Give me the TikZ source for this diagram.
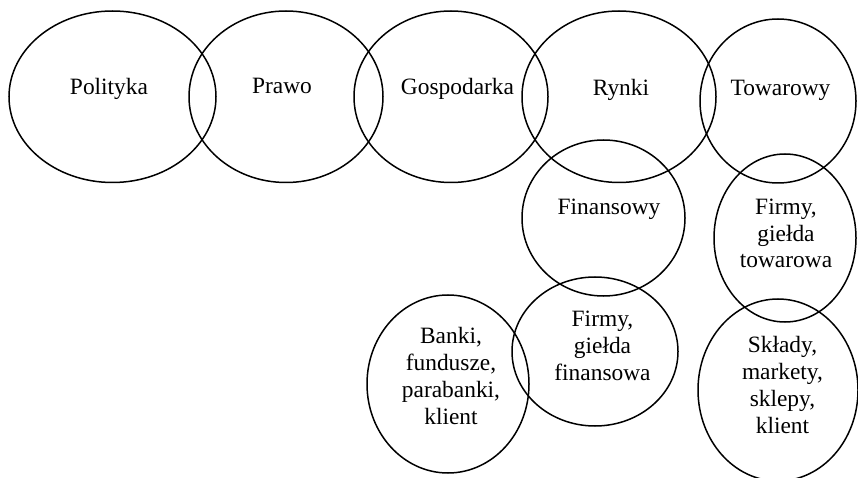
\documentclass[tikz,border=0pt]{standalone}
\usepackage{fontspec}
\setmainfont{Liberation Serif}
\usetikzlibrary{shapes.geometric}
\begin{document}
\begin{tikzpicture}[x=1bp,y=-1bp,
  ell/.style={draw=black,line width=1.5bp,ellipse,inner sep=0pt,outer sep=0pt},
  lbl/.style={inner sep=0pt,outer sep=0pt,align=center,anchor=base,
    font=\fontsize{23.4bp}{26.7bp}\selectfont}]
\useasboundingbox (0,0) rectangle (858,478);
% top row
\node[ell,minimum width=207bp,minimum height=171.5bp] (pol) at (112.5,96.75) {};
\node[ell,minimum width=194bp,minimum height=171.5bp] (pra) at (286,96.75) {};
\node[ell,minimum width=194bp,minimum height=171.5bp] (gos) at (451,96.75) {};
\node[ell,minimum width=194bp,minimum height=171.5bp] (ryn) at (619,96.75) {};
\node[ell,minimum width=156bp,minimum height=164bp] (tow) at (778,101) {};
% lower
\node[ell,minimum width=163bp,minimum height=156bp] (fin) at (603.5,218) {};
\node[ell,minimum width=142bp,minimum height=168bp] (fgt) at (785,238) {};
\node[ell,minimum width=166bp,minimum height=149bp] (fgf) at (595,351.5) {};
\node[ell,minimum width=162bp,minimum height=178bp] (ban) at (448,384) {};
\node[ell,minimum width=160bp,minimum height=182bp] (skl) at (778,390) {};
% labels
\node[lbl] (tpol) at (109,95) {Polityka};
\node[lbl] (tpra) at (282,94) {Prawo};
\node[lbl] (tgos) at (457.5,95) {Gospodarka};
\node[lbl] (tryn) at (621,96) {Rynki};
\node[lbl] (ttow) at (780.5,96) {Towarowy};
\node[lbl] (tfin) at (609,215) {Finansowy};
\node[lbl] (tfgt) at (786,268) {Firmy,\\giełda\\towarowa};
\node[lbl] (tfgf) at (602.5,380) {Firmy,\\giełda\\finansowa};
\node[lbl] (tban) at (451,424) {Banki,\\fundusze,\\parabanki,\\klient};
\node[lbl] (tskl) at (782.5,433) {Składy,\\markety,\\sklepy,\\klient};
\end{tikzpicture}
\end{document}
